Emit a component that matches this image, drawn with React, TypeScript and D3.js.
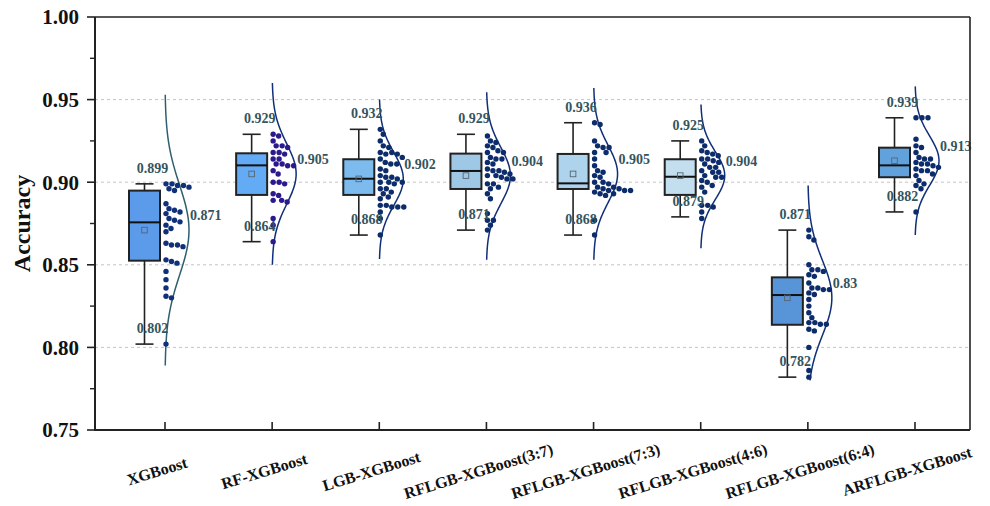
import React from "react";
import * as d3 from "d3";

const categories = [
  "XGBoost",
  "RF-XGBoost",
  "LGB-XGBoost",
  "RFLGB-XGBoost(3:7)",
  "RFLGB-XGBoost(7:3)",
  "RFLGB-XGBoost(4:6)",
  "RFLGB-XGBoost(6:4)",
  "ARFLGB-XGBoost",
];
const whiskerMin = [0.802, 0.864, 0.868, 0.871, 0.868, 0.879, 0.782, 0.882];
const q1 = [0.8525, 0.8923, 0.8923, 0.8959, 0.8959, 0.8923, 0.8137, 0.903];
const median = [0.8757, 0.9102, 0.9021, 0.9068, 0.8993, 0.9033, 0.8317, 0.9102];
const q3 = [0.8949, 0.9175, 0.9139, 0.9173, 0.9171, 0.9139, 0.8424, 0.9209];
const whiskerMax = [0.899, 0.929, 0.932, 0.929, 0.936, 0.925, 0.871, 0.939];
const means = [0.871, 0.905, 0.902, 0.904, 0.905, 0.904, 0.83, 0.913];
const curveSd = [0.0273, 0.0183, 0.016, 0.0169, 0.0173, 0.0145, 0.0227, 0.015];
const curveLo = [0.789, 0.85, 0.8535, 0.853, 0.853, 0.86, 0.78, 0.868];
const curveHi = [0.953, 0.96, 0.95, 0.9544, 0.957, 0.947, 0.898, 0.958];

const ptsXGBoost = [0.899, 0.899, 0.898, 0.898, 0.897, 0.896, 0.895, 0.887, 0.884, 0.883, 0.882, 0.881, 0.878, 0.877, 0.876, 0.874, 0.872, 0.870, 0.863, 0.862, 0.862, 0.861, 0.853, 0.852, 0.851, 0.846, 0.841, 0.836, 0.831, 0.830, 0.802];
const ptsRF = [0.929, 0.928, 0.925, 0.922, 0.922, 0.921, 0.918, 0.918, 0.917, 0.914, 0.914, 0.911, 0.911, 0.910, 0.910, 0.907, 0.905, 0.900, 0.900, 0.899, 0.893, 0.892, 0.889, 0.889, 0.888, 0.878, 0.874, 0.864];
const ptsLGB = [0.932, 0.929, 0.925, 0.922, 0.921, 0.918, 0.918, 0.917, 0.917, 0.915, 0.914, 0.912, 0.911, 0.911, 0.908, 0.907, 0.904, 0.903, 0.903, 0.902, 0.900, 0.900, 0.900, 0.899, 0.896, 0.896, 0.894, 0.893, 0.891, 0.890, 0.886, 0.886, 0.885, 0.885, 0.885, 0.882, 0.878, 0.868];
const pts37 = [0.928, 0.925, 0.924, 0.922, 0.921, 0.919, 0.918, 0.918, 0.915, 0.914, 0.914, 0.912, 0.911, 0.908, 0.907, 0.907, 0.906, 0.905, 0.904, 0.904, 0.903, 0.902, 0.902, 0.899, 0.899, 0.897, 0.896, 0.893, 0.890, 0.881, 0.877, 0.877, 0.874, 0.871];
const pts73 = [0.936, 0.935, 0.925, 0.922, 0.921, 0.921, 0.918, 0.918, 0.914, 0.910, 0.907, 0.906, 0.904, 0.903, 0.900, 0.900, 0.899, 0.897, 0.897, 0.896, 0.896, 0.895, 0.895, 0.895, 0.894, 0.893, 0.893, 0.892, 0.877, 0.868];
const pts46 = [0.925, 0.922, 0.919, 0.918, 0.917, 0.916, 0.914, 0.914, 0.913, 0.912, 0.911, 0.909, 0.909, 0.907, 0.906, 0.906, 0.904, 0.903, 0.903, 0.901, 0.900, 0.898, 0.897, 0.894, 0.886, 0.886, 0.885, 0.882, 0.878];
const pts64 = [0.871, 0.867, 0.865, 0.850, 0.847, 0.847, 0.846, 0.844, 0.843, 0.839, 0.836, 0.836, 0.835, 0.835, 0.833, 0.832, 0.829, 0.825, 0.821, 0.818, 0.815, 0.815, 0.814, 0.814, 0.811, 0.810, 0.800, 0.786, 0.782];
const ptsARF = [0.939, 0.939, 0.939, 0.926, 0.922, 0.921, 0.918, 0.915, 0.914, 0.914, 0.912, 0.911, 0.911, 0.910, 0.909, 0.908, 0.907, 0.907, 0.905, 0.904, 0.901, 0.899, 0.898, 0.896, 0.882];
const points = [ptsXGBoost, ptsRF, ptsLGB, pts37, pts73, pts46, pts64, ptsARF];

const boxColors = ["#5b9bea", "#63acf5", "#7dbaed", "#9ec8e6", "#aed3ec", "#c3deee", "#5795d8", "#62a2dc"];
const dotColors = ["#10307a", "#2b1a8e", "#0c2c6c", "#0c2c6c", "#0c2c6c", "#0c2c6c", "#0c2c6c", "#0c2c6c"];
const curveColors = ["#2f5f6e", "#102f78", "#102f78", "#102f78", "#102f78", "#102f78", "#102f78", "#102f78"];

const yTicks = [0.75, 0.8, 0.85, 0.9, 0.95, 1.0];
const yMinor = [0.775, 0.825, 0.875, 0.925, 0.975];
const gridVals = [0.8, 0.85, 0.9, 0.95];

const W = 990, H = 506;
const L = 95, R = 970, T = 17, B = 430;
const FONT = "'Liberation Serif', 'Times New Roman', serif";

const y = d3.scaleLinear().domain([0.75, 1.0]).range([B, T]);
const x = d3.scaleLinear().domain([1, 8]).range([165, 915]);

function swarm(vals: number[], cx: number, r: number) {
  const placed: { x: number; y: number }[] = [];
  const sorted = [...vals].sort((a, b) => b - a);
  for (const v of sorted) {
    const py = y(v);
    let px = cx + 1;
    for (let off = 1; off < 40; off += 0.5) {
      const cand = cx + off;
      const ok = placed.every((p) => (p.x - cand) ** 2 + (p.y - py) ** 2 >= (2 * r + 0.3) ** 2);
      if (ok) { px = cand; break; }
    }
    placed.push({ x: px, y: py });
  }
  return placed;
}

export default function App() {
  const boxW = 31, capW = 18, boxOff = -20.5, peak = 24;
  return (
    <svg width={W} height={H} style={{ position: "absolute", left: 0, top: 0, background: "#fff" }} fontFamily={FONT}>
      <rect x={0} y={0} width={W} height={H} fill="#fff" />
      {gridVals.map((g) => (
        <line key={g} x1={L} x2={R} y1={y(g)} y2={y(g)} stroke="#c4c4c4" strokeWidth={1} strokeDasharray="3,3" />
      ))}
      {categories.map((c, i) => {
        const tx = x(i + 1);
        const bx = tx + boxOff;
        const steps = d3.range(0, 121).map((k) => curveLo[i] + (curveHi[i] - curveLo[i]) * (k / 120));
        const line = d3.line<number>()
          .x((v) => tx + peak * Math.exp(-0.5 * ((v - means[i]) / curveSd[i]) ** 2))
          .y((v) => y(v))
          .curve(d3.curveBasis);
        const dots = swarm(points[i], tx, 2.7);
        return (
          <g key={c}>
            <line x1={bx} x2={bx} y1={y(whiskerMax[i])} y2={y(q3[i])} stroke="#222" strokeWidth={1.6} />
            <line x1={bx} x2={bx} y1={y(q1[i])} y2={y(whiskerMin[i])} stroke="#222" strokeWidth={1.6} />
            <line x1={bx - capW / 2} x2={bx + capW / 2} y1={y(whiskerMax[i])} y2={y(whiskerMax[i])} stroke="#222" strokeWidth={1.6} />
            <line x1={bx - capW / 2} x2={bx + capW / 2} y1={y(whiskerMin[i])} y2={y(whiskerMin[i])} stroke="#222" strokeWidth={1.6} />
            <rect x={bx - boxW / 2} y={y(q3[i])} width={boxW} height={y(q1[i]) - y(q3[i])} fill={boxColors[i]} stroke="#222" strokeWidth={2} />
            <line x1={bx - boxW / 2} x2={bx + boxW / 2} y1={y(median[i])} y2={y(median[i])} stroke="#111" strokeWidth={2} />
            <rect x={bx - 2.8} y={y(means[i]) - 2.8} width={5.6} height={5.6} fill="none" stroke="#5a6470" strokeWidth={0.9} />
            <path d={line(steps) || ""} fill="none" stroke={curveColors[i]} strokeWidth={1.5} />
            {dots.map((p, k) => (
              <circle key={k} cx={p.x} cy={p.y} r={2.7} fill={dotColors[i]} />
            ))}
            <text x={bx + 8} y={y(whiskerMax[i]) - 11} textAnchor="middle" fontSize={14} fontWeight="bold" fill="#34545e">{String(whiskerMax[i])}</text>
            <text x={bx + 8} y={y(whiskerMin[i]) - 11} textAnchor="middle" fontSize={14} fontWeight="bold" fill="#34545e">{String(whiskerMin[i])}</text>
            <text x={tx + 25} y={y(means[i]) - 10} textAnchor="start" fontSize={14} fontWeight="bold" fill="#34545e">{String(means[i])}</text>
          </g>
        );
      })}
      <line x1={L} x2={R} y1={T} y2={T} stroke="#222" strokeWidth={1.6} />
      <line x1={R} x2={R} y1={T} y2={B} stroke="#222" strokeWidth={1.6} />
      <line x1={L} x2={L} y1={T} y2={B + 1} stroke="#222" strokeWidth={2} />
      <line x1={L - 1} x2={R} y1={B} y2={B} stroke="#222" strokeWidth={2} />
      {yTicks.map((t) => (
        <g key={t}>
          <line x1={L - 8} x2={L} y1={y(t)} y2={y(t)} stroke="#222" strokeWidth={1.6} />
          <text x={L - 16} y={y(t)} dy="0.35em" textAnchor="end" fontSize={21} fontWeight="bold" fill="#111">{d3.format(".2f")(t)}</text>
        </g>
      ))}
      {yMinor.map((t) => (
        <line key={t} x1={L - 5} x2={L} y1={y(t)} y2={y(t)} stroke="#222" strokeWidth={1.4} />
      ))}
      {categories.map((c, i) => (
        <g key={"xt" + c}>
          <line x1={x(i + 1)} x2={x(i + 1)} y1={B} y2={B - 8} stroke="#222" strokeWidth={1.6} />
          <text transform={`translate(${x(i + 1) - 8},${471}) rotate(-17)`} textAnchor="middle" dy="0.35em" fontSize={16} fontWeight="bold" fill="#111">{c}</text>
        </g>
      ))}
      <text transform={`translate(30,${(T + B) / 2}) rotate(-90)`} textAnchor="middle" fontSize={24} fontWeight="bold" fill="#111">Accuracy</text>
    </svg>
  );
}
